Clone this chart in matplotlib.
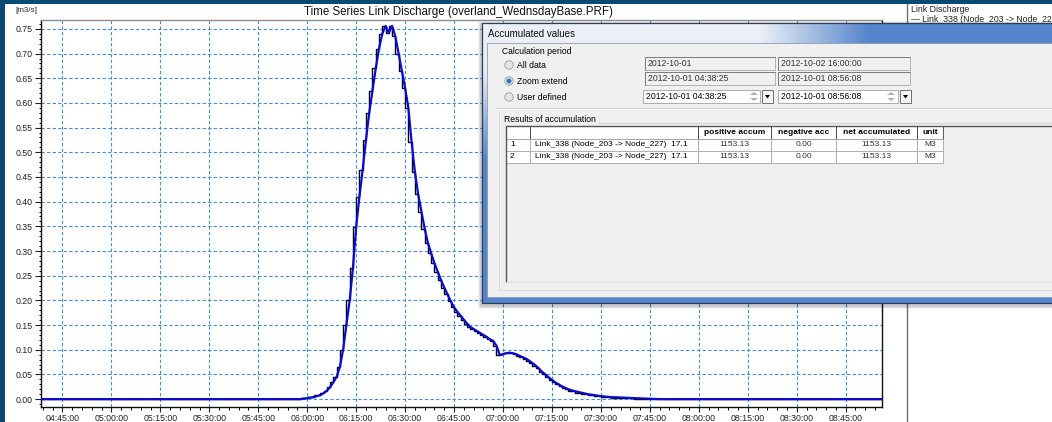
import numpy as np
import matplotlib
matplotlib.use('Agg')
import matplotlib.pyplot as plt
from matplotlib.patches import Rectangle, Circle, Polygon
from matplotlib.ticker import FixedLocator, MultipleLocator

plt.rcParams['font.family'] = ['Liberation Sans', 'DejaVu Sans']

# ---------------- data ----------------
# time in minutes after midnight, discharge in m3/s
time_min = [278.42, 300, 330, 358, 360, 362, 364, 365, 366, 367, 368, 369, 370,
            371, 372, 373, 374, 375, 376, 377, 378, 379, 380, 381, 382, 383,
            384, 385, 386, 387, 388, 389, 390, 391, 392, 393, 394, 395, 396,
            397, 398, 399, 400, 401, 402, 403, 404, 405, 406, 407, 408, 409,
            410, 411, 412, 413, 414, 415, 416, 417, 418, 419, 420, 421, 422,
            423, 424, 425, 426, 427, 428, 429, 430, 431, 432, 433, 434, 435,
            436, 437, 438, 439, 440, 442, 444, 446, 448, 450, 453, 457, 460,
            464, 468, 500, 536.13]
discharge = [0.0, 0.0, 0.0, 0.0, 0.002, 0.004, 0.008, 0.012, 0.017, 0.024, 0.034,
             0.045, 0.065, 0.100, 0.150, 0.200, 0.265, 0.349, 0.410, 0.465,
             0.525, 0.580, 0.625, 0.670, 0.710, 0.740, 0.756, 0.742, 0.756,
             0.735, 0.700, 0.665, 0.630, 0.590, 0.520, 0.460, 0.415, 0.380,
             0.345, 0.316, 0.295, 0.275, 0.258, 0.241, 0.226, 0.212, 0.198,
             0.186, 0.177, 0.169, 0.161, 0.153, 0.146, 0.142, 0.138, 0.134,
             0.130, 0.126, 0.121, 0.118, 0.108, 0.089, 0.091, 0.093, 0.094,
             0.093, 0.091, 0.088, 0.085, 0.082, 0.078, 0.073, 0.068, 0.062,
             0.055, 0.050, 0.044, 0.039, 0.034, 0.030, 0.026, 0.023, 0.020,
             0.016, 0.013, 0.010, 0.008, 0.006, 0.004, 0.003, 0.002, 0.001,
             0.0, 0.0, 0.0]
x_range = [278.42, 536.13]          # 04:38:25 .. 08:56:08
y_range = [-0.016, 0.768]
x_tick_min = [285, 300, 315, 330, 345, 360, 375, 390, 405, 420, 435, 450,
              465, 480, 495, 510, 525]
x_tick_labels = ['04:45:00', '05:00:00', '05:15:00', '05:30:00', '05:45:00',
                 '06:00:00', '06:15:00', '06:30:00', '06:45:00', '07:00:00',
                 '07:15:00', '07:30:00', '07:45:00', '08:00:00', '08:15:00',
                 '08:30:00', '08:45:00']
y_ticks = [0.00, 0.05, 0.10, 0.15, 0.20, 0.25, 0.30, 0.35, 0.40, 0.45, 0.50,
           0.55, 0.60, 0.65, 0.70, 0.75]

title = 'Time Series Link Discharge (overland_WednsdayBase.PRF)'
unit_label = '[m3/s]'
legend_title = 'Link Discharge'
series_name = 'Link_338 (Node_203 -> Node_227)  17.1'

table_header = ['', '', 'positive accum', 'negative acc', 'net accumulated', 'unit']
table_rows = [['1', series_name, '1153.13', '0.00', '1153.13', 'M3'],
              ['2', series_name, '1153.13', '0.00', '1153.13', 'M3']]

# ---------------- figure ----------------
W, H = 1052, 422
fig = plt.figure(figsize=(W / 100, H / 100), dpi=100)
fig.patch.set_facecolor('#0a4a72')

bg = fig.add_axes([0, 0, 1, 1], zorder=0)
bg.set_xlim(0, W); bg.set_ylim(H, 0); bg.axis('off')
bg.add_patch(Rectangle((5, 4), 902, 420, facecolor='white', edgecolor='none'))
bg.add_patch(Rectangle((907, 4), 146, 420, facecolor='white', edgecolor='none'))
bg.plot([907, 907], [4, 422], color='#6e6e6e', lw=1.0)
bg.text(15, 11, unit_label, fontsize=5.8, va='center', ha='left', color='#222222')
bg.text(458, 12, title, fontsize=8.3, va='center', ha='center', color='#111111')
bg.text(911, 10, legend_title, fontsize=6.3, va='center', ha='left', color='#222222')
bg.text(911, 20, '\u2014 ' + series_name, fontsize=6.3, va='center', ha='left', color='#222222')

# ---------------- chart ----------------
ax = fig.add_axes([41 / W, 1 - 407 / H, 841 / W, 387 / H], zorder=1)
ax.set_facecolor('white')
ax.step(time_min, discharge, where='pre', color='black', lw=1.0, zorder=3)
ax.plot(time_min, discharge, color='#0a0ad0', lw=1.6, zorder=4)
ax.set_xlim(*x_range)
ax.set_ylim(*y_range)
ax.xaxis.set_major_locator(FixedLocator(x_tick_min))
ax.set_xticklabels(x_tick_labels)
ax.xaxis.set_minor_locator(MultipleLocator(3))
ax.yaxis.set_major_locator(FixedLocator(y_ticks))
ax.set_yticklabels(['%.2f' % v for v in y_ticks])
ax.yaxis.set_minor_locator(MultipleLocator(0.01))
ax.tick_params(axis='x', which='major', length=3.5, width=0.8, labelsize=6.3, pad=1.5, colors='#222222')
ax.tick_params(axis='x', which='minor', length=2.0, width=0.7)
ax.tick_params(axis='y', which='major', length=4.2, width=0.8, labelsize=6.3, pad=2.0, colors='#222222')
ax.tick_params(axis='y', which='minor', length=1.8, width=0.7)
ax.grid(True, which='major', color='#4a90d0', lw=0.8, linestyle=(0, (3, 2)))
ax.set_axisbelow(True)
for s in ['left', 'bottom', 'right']:
    ax.spines[s].set_color('#111111'); ax.spines[s].set_linewidth(1.0)
ax.spines['top'].set_color('#8c8c8c'); ax.spines['top'].set_linewidth(1.0)

# ---------------- dialog overlay ----------------
ov = fig.add_axes([0, 0, 1, 1], zorder=5)
ov.axis('off')

# shadow
for i, a in enumerate([0.05, 0.07, 0.09]):
    d = 4 - i
    ov.add_patch(Rectangle((482 - d, 23 - d + 2), 600, 280 + 2 * d, facecolor='black',
                           edgecolor='none', alpha=a))

# frame gradient
fx0, fx1, fy0, fy1 = 482, 1052, 23, 303
xs = np.arange(fx0, fx1) + 0.5
ys = np.arange(fy0, fy1) + 0.5
XX, YY = np.meshgrid(xs, ys)
w_title = np.clip((XX - 760) / 110.0, 0, 1) * (YY < 44)
w_vert = np.clip((YY - 70) / 90.0, 0, 1)
w = np.maximum(w_title, w_vert)[..., None]
light = np.array([0.925, 0.94, 0.965])
blue = np.array([0.33, 0.52, 0.80])
img = light * (1 - w) + blue * w
ov.imshow(img, extent=(fx0, fx1, fy1, fy0), origin='upper', aspect='auto',
          interpolation='bilinear', zorder=1)
ov.add_patch(Rectangle((fx0, fy0), fx1 - fx0 + 5, fy1 - fy0, facecolor='none',
                       edgecolor='#2b3d5c', lw=0.9, zorder=2))
ov.text(488, 34, 'Accumulated values', fontsize=7.0, va='center', ha='left',
        color='#111111', zorder=3)

# client area
ov.add_patch(Rectangle((487, 43), 570, 254, facecolor='#f0f0f0', edgecolor='#8d9cb4',
                       lw=0.6, zorder=2))

fs = 6.2
ov.text(502, 51, 'Calculation period', fontsize=fs, va='center', ha='left', zorder=3)
ov.plot([497, 1052], [108, 108], color='#d2d2d2', lw=0.8, zorder=3)
ov.plot([497, 1052], [109, 109], color='white', lw=0.6, zorder=3)

radio_y = [65, 81, 97]
radio_lbl = ['All data', 'Zoom extend', 'User defined']
for k, (ry, lbl) in enumerate(zip(radio_y, radio_lbl)):
    ov.add_patch(Circle((509, ry), 4.2, facecolor='#e6e6e6', edgecolor='#9a9a9a', lw=0.6, zorder=3))
    if k == 1:
        ov.add_patch(Circle((509, ry), 2.4, facecolor='#2e6fae', edgecolor='#7fb0de', lw=0.5, zorder=4))
    ov.text(517, ry, lbl, fontsize=fs, va='center', ha='left', zorder=4)

boxes = [((645, 57, 130, 13), '2012-10-01'),
         ((645, 72, 130, 13), '2012-10-01 04:38:25'),
         ((778, 57, 132, 13), '2012-10-02 16:00:00'),
         ((778, 72, 132, 13), '2012-10-01 08:56:08')]
for (bx, by, bw, bh), s in boxes:
    ov.add_patch(Rectangle((bx, by), bw, bh, facecolor='#f0f0f0', edgecolor='#a8a8a8', lw=0.6, zorder=3))
    ov.plot([bx, bx, bx + bw], [by + bh, by, by], color='#7d7d7d', lw=0.7, zorder=4)
    ov.text(bx + 3, by + bh / 2, s, fontsize=fs, va='center', ha='left', color='#333333', zorder=4)

pickers = [(643, 748, 762, '2012-10-01 04:38:25'), (778, 885, 900, '2012-10-01 08:56:08')]
for px0, spx, ddx, s in pickers:
    ov.add_patch(Rectangle((px0, 90), ddx - px0 - 2, 13, facecolor='white', edgecolor='#a0a0a0', lw=0.6, zorder=3))
    ov.text(px0 + 3, 96.5, s, fontsize=fs, va='center', ha='left', zorder=4)
    ov.add_patch(Polygon([[spx + 2, 95], [spx + 10, 95], [spx + 6, 92]], closed=True,
                         facecolor='#9bb4d4', edgecolor='none', zorder=4))
    ov.add_patch(Polygon([[spx + 2, 98], [spx + 10, 98], [spx + 6, 101]], closed=True,
                         facecolor='#9bb4d4', edgecolor='none', zorder=4))
    ov.add_patch(Rectangle((ddx, 90), 11, 13, facecolor='#f4f4f4', edgecolor='#6e6e6e', lw=0.7, zorder=3))
    ov.add_patch(Polygon([[ddx + 3, 95], [ddx + 8, 95], [ddx + 5.5, 98.5]], closed=True,
                         facecolor='black', edgecolor='none', zorder=4))

ov.text(504, 120, 'Results of accumulation', fontsize=fs, va='center', ha='left', zorder=3)
ov.plot([598, 1052], [123, 123], color='#d2d2d2', lw=0.8, zorder=3)

# results table
ov.plot([499, 499], [112, 290], color='#dcdcdc', lw=0.7, zorder=3)
ov.plot([499, 1052], [290, 290], color='#dcdcdc', lw=0.7, zorder=3)
ov.add_patch(Rectangle((506, 126), 560, 156, facecolor='#efefef', edgecolor='none', zorder=3))
ov.plot([506, 506, 1052], [282, 126, 126], color='#555555', lw=1.0, zorder=5)
ov.plot([506, 1052], [282, 282], color='#e2e2e2', lw=0.8, zorder=5)

col_x = [506, 530, 698, 771, 836, 917, 943]
row_y = [126, 138.5, 150.5, 162.5]
all_rows = [table_header] + table_rows
for r, row in enumerate(all_rows):
    y0, y1 = row_y[r], row_y[r + 1]
    for c, cell in enumerate(row):
        x0, x1 = col_x[c], col_x[c + 1]
        ec = '#3c3c3c' if r == 0 else '#a8a8a8'
        ov.add_patch(Rectangle((x0, y0), x1 - x0, y1 - y0, facecolor='white',
                               edgecolor=ec, lw=0.6, zorder=4))
        if not cell:
            continue
        yc = (y0 + y1) / 2
        if r == 0:
            ov.text((x0 + x1) / 2, yc, cell, fontsize=6.0, fontweight='bold',
                    va='center', ha='center', zorder=6)
        elif c == 0:
            ov.text(x0 + 4, yc, cell, fontsize=6.0, va='center', ha='left', zorder=6)
        elif c == 1:
            ov.text(x0 + 5, yc, cell, fontsize=6.0, va='center', ha='left', zorder=6)
        else:
            ov.text((x0 + x1) / 2, yc, cell, fontsize=6.0, va='center', ha='center',
                    color='#333333', zorder=6)

ov.set_xlim(0, W)
ov.set_ylim(H, 0)

fig.savefig('out.png', dpi=100, facecolor=fig.get_facecolor())
